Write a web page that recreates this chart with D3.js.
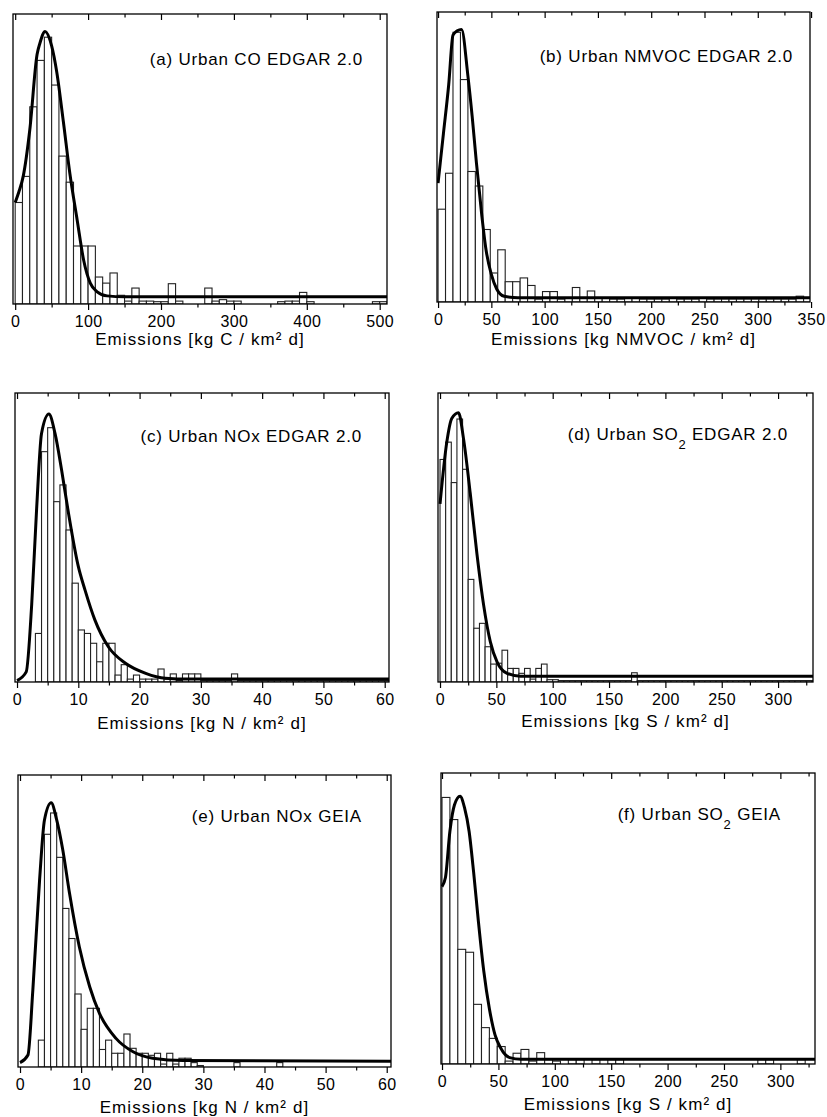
<!DOCTYPE html>
<html lang="en">
<head>
    <meta charset="utf-8">
    <title>Urban emission histograms</title>
    <script src="https://d3js.org/d3.v7.min.js" charset="utf-8"></script>
    <style type="text/css">
        body { margin: 0; background: #fff; }
        text { font-family: "Liberation Sans", Arial, Helvetica, sans-serif; fill: #000; }
        .bar { fill: #fff; stroke: #222; stroke-width: 1.1; }
        .fit { fill: none; stroke: #000; stroke-width: 3; stroke-linejoin: round; }
        .frame { fill: none; stroke: #000; stroke-width: 1.3; }
        .axis path { display: none; }
        .axis line { stroke: #000; stroke-width: 1.2; }
        .axis text { font-size: 16px; letter-spacing: 0.4px; fill: #000; }
        .label { font-size: 17px; letter-spacing: 0.8px; }
        .xtitle { font-size: 17px; letter-spacing: 1.1px; }
    </style>
</head>
<body>
<script type="text/javascript">
    // panel text
    var panelLabels = [
        ["(a) Urban CO EDGAR 2.0"],
        ["(b) Urban NMVOC EDGAR 2.0"],
        ["(c) Urban NOx EDGAR 2.0"],
        ["(d) Urban SO", "2", " EDGAR 2.0"],
        ["(e) Urban NOx GEIA"],
        ["(f) Urban SO", "2", " GEIA"]
    ];
    var units = ["C", "NMVOC", "N", "S", "N", "S"];

    // x ticks
    var ticksA = [0, 100, 200, 300, 400, 500];
    var ticksB = [0, 50, 100, 150, 200, 250, 300, 350];
    var ticksC = [0, 10, 20, 30, 40, 50, 60];
    var ticksD = [0, 50, 100, 150, 200, 250, 300];
    var ticksE = [0, 10, 20, 30, 40, 50, 60];
    var ticksF = [0, 50, 100, 150, 200, 250, 300];
    var minorSteps = [50, 25, 5, 25, 5, 25];

    // histogram bins (relative frequency, % of panel height)
    var binWidths = [10, 7, 1, 5, 1, 7];
    var histA = [35, 44, 68, 84, 92, 75.5, 51, 42, 20, 20,
                 20, 9.3, 7.2, 10.7, 3, 1, 5.5, 1, 1, 0.8,
                 0.8, 7, 1, 0, 0, 0, 5.5, 1, 1.5, 1,
                 1, 0, 0, 0, 0, 0, 0.8, 1, 1, 4,
                 0.8, 0, 0, 0, 0, 0, 0, 0, 0, 0.8, 0.8];
    var histB = [32, 44.4, 93, 76.7, 45, 40, 25, 10, 18, 7,
                 7, 8.3, 5.7, 1, 3.6, 3.6, 1, 1.5, 5, 1.5,
                 3.8, 1.5, 1.5, 1, 1, 1.5, 1.5, 1, 1, 1,
                 1, 1.5, 1, 1, 1, 1.5, 1, 1, 1, 1,
                 1, 1, 1, 1, 1, 1, 1, 1, 2, 1.5];
    var histC = [0, 0, 0, 16.8, 79.7, 88, 62.4, 68.2, 52.6, 34.2,
                 18, 16.8, 13.4, 7, 13.4, 13.4, 2.4, 6, 1, 2.4,
                 1, 1, 1, 4.5, 1, 2.8, 0.5, 2.8, 2.8, 2.8,
                 0.5, 0.5, 0.5, 0.5, 0.5, 2.8, 0.5, 0.5, 0.5, 0.5,
                 0.5, 0.5, 0.5, 0.5, 0.5, 0.5, 0.5, 0.5, 0.5, 0.5,
                 0.5, 0.5, 0.5, 0.5, 0.5, 0.5, 0.5, 0.5, 0.5, 0.5, 0.5];
    var histD = [77, 83, 69, 91, 73.6, 35.5, 18.6, 20.3, 12.2, 6.2,
                 6.5, 11, 4.7, 4.7, 3, 4.7, 1, 4.7, 6.2, 0.8,
                 0.8, 0.5, 0.5, 0.5, 0.5, 0.5, 0.5, 0.5, 0.5, 0.5,
                 0.5, 0.5, 0.5, 0.5, 3.2, 0.5, 0.5, 0.5, 0.5, 0.5,
                 0.5, 0.5, 0.5, 0.5, 0.5, 0.5, 0.5, 0.5, 0.5, 0.5,
                 0.5, 0.5, 0.5, 0.5, 0.5, 0.5, 0.5, 0.5, 0.5, 0.5,
                 0.5, 0.5, 0.5, 0.5, 0.5, 0.5, 0.5];
    var histE = [0, 0, 0, 9.2, 79.7, 87, 71.8, 54.3, 44, 25,
                 12.9, 20.1, 20.1, 6, 9.2, 4.7, 4.7, 11.3, 6.4, 4.7,
                 4.7, 4, 4.7, 1, 4.7, 1, 3, 3, 1.5, 0.5,
                 0, 0, 0, 0, 0, 1.5, 0, 0, 0, 0,
                 0, 0, 1.5];
    var histF = [91.6, 84, 39.4, 38.4, 20.5, 12.5, 8.8, 6, 1, 3.7,
                 5, 1, 3.9, 1.5, 1, 0, 1.5, 1.5, 0, 1.5,
                 0, 1.5, 1.5, 0, 0, 0, 0, 0, 0, 0,
                 0, 0, 0, 0, 0, 0, 0, 0, 0, 0,
                 1.5, 1.5, 0, 0, 0, 1.5];

    // fitted curves [emission, % of panel height]
    var fitA = [[0, 35], [5, 38.6], [11, 44], [20, 60], [30, 86], [34, 90], [41, 94], [50, 89], [57, 80],
                [66, 63], [75, 45], [85, 29], [94, 15], [103, 7.2], [112, 4.3], [126, 2.8], [150, 2.5], [510, 2.5]];
    var fitB = [[0, 41], [5, 58], [10, 75], [14, 92], [18, 93.5], [22, 94], [28, 78], [32, 64], [36, 48],
                [41, 30], [45, 18], [50, 9.5], [55, 4.5], [62, 2], [75, 1.5], [349, 1.5]];
    var fitC = [[0, 0.5], [1.5, 3.5], [2.4, 27], [3.2, 60], [4, 86], [5.2, 92.7], [6.2, 86], [7.3, 73],
                [8.4, 58.4], [10, 40], [11.1, 31.8], [12.7, 21.5], [14.9, 12.2], [17.7, 6.5], [21, 3],
                [24.2, 1.3], [28, 1], [60.7, 1]];
    var fitD = [[0, 61.6], [6, 83], [10.4, 91.2], [16.4, 93.2], [20.8, 84.3], [26.8, 65.3], [32.7, 44.5],
                [38.7, 26.6], [44.6, 14], [50.6, 7], [59.5, 3], [71.4, 2], [331, 2]];
    var fitE = [[0, 1.5], [1.3, 4.1], [2.1, 26.4], [3.2, 64], [4, 84.6], [5.1, 90.5], [6, 84.6], [7, 74.3],
                [8.1, 59.5], [9.7, 41.2], [11.4, 27.5], [13, 18.4], [15.7, 9.8], [18.5, 5.2], [21.7, 3],
                [26.7, 2.2], [60.7, 2]];
    var fitF = [[0, 61], [3, 64], [7, 80], [11, 89], [16, 92], [20, 88], [24, 80], [28, 66], [32, 50],
                [37, 32], [42, 19], [47, 10], [52, 5.5], [60, 2.2], [70, 1.6], [330.7, 1.6]];

    var hists = [histA, histB, histC, histD, histE, histF];
    var fits = [fitA, fitB, fitC, fitD, fitE, fitF];
    var majorTicks = [ticksA, ticksB, ticksC, ticksD, ticksE, ticksF];

    // frame boxes and text placement for each panel
    var layout = [
        { x0: 13,  x1: 387, y0: 14,  y1: 304,  dom: [-3, 510],     lx: 363, ly: 65,  ty: 345 },
        { x0: 437, x1: 810, y0: 12,  y1: 302,  dom: [-1, 349],     lx: 793, ly: 62,  ty: 345 },
        { x0: 15,  x1: 389, y0: 393, y1: 682,  dom: [-0.33, 60.7], lx: 362, ly: 442, ty: 729 },
        { x0: 438, x1: 813, y0: 393, y1: 682,  dom: [-1.8, 331],   lx: 788, ly: 440, ty: 727 },
        { x0: 18,  x1: 391, y0: 775, y1: 1067, dom: [-0.33, 60.7], lx: 362, ly: 822, ty: 1113 },
        { x0: 441, x1: 815, y0: 773, y1: 1064, dom: [-0.9, 330.7], lx: 781, ly: 820, ty: 1110 }
    ];

    var svg = d3.select("body").append("svg")
        .attr("width", 827)
        .attr("height", 1117);

    layout.forEach(function (L, i) {
        var g = svg.append("g");
        var x = d3.scaleLinear().domain(L.dom).range([L.x0, L.x1]);
        var y = d3.scaleLinear().domain([0, 100]).range([L.y1, L.y0]);
        var w = binWidths[i];

        g.append("clipPath").attr("id", "clip" + i)
            .append("rect")
            .attr("x", L.x0).attr("y", L.y0)
            .attr("width", L.x1 - L.x0).attr("height", L.y1 - L.y0);

        var plot = g.append("g").attr("clip-path", "url(#clip" + i + ")");

        var bins = hists[i].map(function (v, k) { return { lo: k * w, hi: (k + 1) * w, v: v }; })
            .filter(function (d) { return d.v > 0; });

        plot.selectAll("rect.bar")
            .data(bins)
            .enter()
            .append("rect")
            .attr("class", "bar")
            .attr("x", function (d) { return x(d.lo); })
            .attr("y", function (d) { return y(d.v); })
            .attr("width", function (d) { return x(d.hi) - x(d.lo); })
            .attr("height", function (d) { return y(0) - y(d.v); });

        var line = d3.line()
            .x(function (d) { return x(d[0]); })
            .y(function (d) { return y(d[1]); })
            .curve(d3.curveMonotoneX);

        plot.append("path")
            .datum(fits[i])
            .attr("class", "fit")
            .attr("d", line);

        // ticks
        var majors = majorTicks[i];
        var minors = d3.range(0, L.dom[1], minorSteps[i]).filter(function (t) { return majors.indexOf(t) < 0; });

        g.append("g").attr("class", "axis")
            .attr("transform", "translate(0," + L.y1 + ")")
            .call(d3.axisBottom(x).tickValues(majors).tickSize(6).tickPadding(6).tickFormat(d3.format("d")));
        g.append("g").attr("class", "axis")
            .attr("transform", "translate(0," + L.y1 + ")")
            .call(d3.axisBottom(x).tickValues(minors).tickSize(3.5).tickFormat(""));
        g.append("g").attr("class", "axis")
            .attr("transform", "translate(0," + L.y0 + ")")
            .call(d3.axisTop(x).tickValues(majors).tickSize(-6).tickFormat(""));
        g.append("g").attr("class", "axis")
            .attr("transform", "translate(0," + L.y0 + ")")
            .call(d3.axisTop(x).tickValues(minors).tickSize(-3.5).tickFormat(""));

        g.append("rect")
            .attr("class", "frame")
            .attr("x", L.x0).attr("y", L.y0)
            .attr("width", L.x1 - L.x0).attr("height", L.y1 - L.y0);

        // panel label
        var parts = panelLabels[i];
        var lab = g.append("text")
            .attr("class", "label")
            .attr("x", L.lx).attr("y", L.ly)
            .attr("text-anchor", "end");
        lab.append("tspan").text(parts[0]);
        if (parts.length > 1) {
            lab.append("tspan").attr("dy", 9).style("font-size", "13px").text(parts[1]);
            lab.append("tspan").attr("dy", -9).text(parts[2]);
        }

        // x title
        g.append("text")
            .attr("class", "xtitle")
            .attr("x", (L.x0 + L.x1) / 2).attr("y", L.ty)
            .attr("text-anchor", "middle")
            .text("Emissions [kg " + units[i] + " / km\u00b2 d]");
    });
</script>
</body>
</html>
